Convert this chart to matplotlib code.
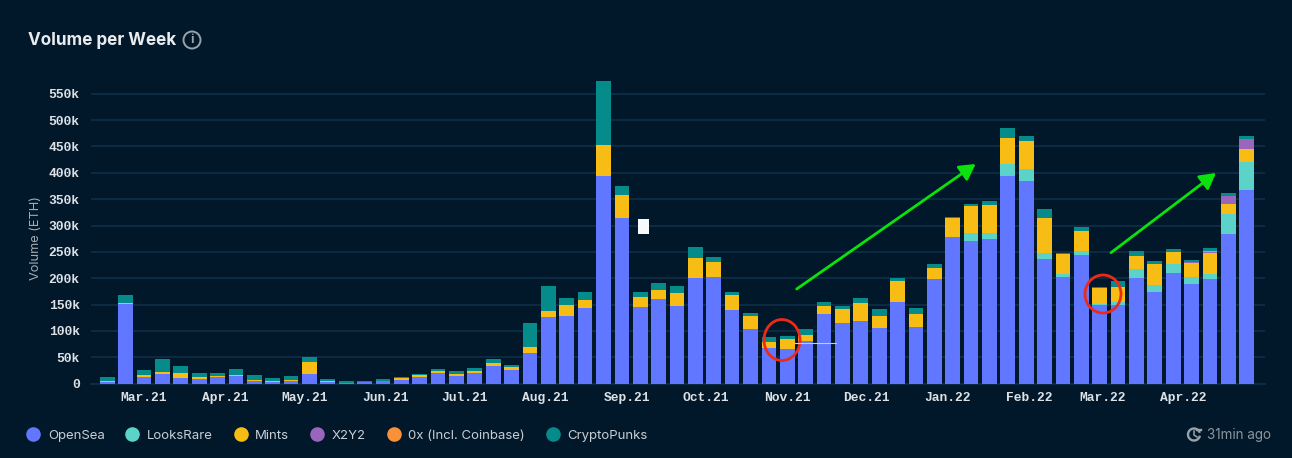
import matplotlib
matplotlib.use("Agg")
import matplotlib.pyplot as plt
import matplotlib.dates as mdates
import numpy as np
import pandas as pd
from matplotlib.lines import Line2D
from matplotlib.patches import Ellipse, Rectangle, Arc, FancyArrowPatch

W, H = 1292, 458
weeks = pd.date_range("2021-02-15", periods=63, freq="7D")

opensea = [4,151,12,18,11,8,12,15,5,3,4.5,19,4,1.5,3,5,7.5,13,20,14,19.6,34,26,59,126,129,143,394,313.5,145,160.5,148,200,202,139,103,67,66,81,131.5,115.7,119.5,106,155.5,108,199,279,270.5,275,394,385,237,203,245,149,149,201,174.5,210.5,189.6,199,284,367]
looksrare = [0]*47 + [15.5,10,23,22,11,6,6,3,6.5,16.5,12,16.5,12,10,38,54]
mints = [1,3,4,5,10,4.6,3,1,2,1.5,2.5,22,1,0.5,1,1,2.5,3,4.6,5,4.4,6,5,10,12,21,16,58.6,43.5,19,17,24.6,37.7,28.7,29,24.7,13,18,12,16.5,25.9,34.1,23,38.5,24,20,34.5,51,53,49,53,65.5,37,39,29,28.5,24.5,41,22.7,27.4,39,19,25]
x2y2 = [0]*59 + [2,2,15,18]
zerox = [0]*60 + [1,0,0]
punks = [7.6,15,10,23,12.5,7,4.6,11,10,6.5,7,9.5,3,2.5,1.5,2,2,1.7,3.2,5,5,7,4,47,48,13,15,121.4,18.5,9,13.5,12.4,20.8,8.9,6.5,7.3,9,7,10.7,7.5,5.1,8.9,12,6,11.5,8.6,3.5,3,9,19.5,9,17.1,2,7,3,10,9,5,5.3,3,6,5,5]

names = ["OpenSea", "LooksRare", "Mints", "X2Y2", "0x (Incl. Coinbase)", "CryptoPunks"]
series = [opensea, looksrare, mints, x2y2, zerox, punks]
colors = ["#6177FF", "#5CD3C9", "#F8BD14", "#9A65BC", "#F8913A", "#068B8B"]
yticks = list(range(0, 551, 50))
ylabels = ["0"] + [f"{v}k" for v in yticks[1:]]
month_ticks = pd.date_range("2021-03-01", "2022-04-01", freq="MS")
month_labels = [d.strftime("%b.%y") for d in month_ticks]

BG = "#01182B"
GRID = "#0F2D46"
fig = plt.figure(figsize=(W / 100, H / 100), dpi=100, facecolor=BG)

def fx(x):
    return x / W
def fy(y):
    return 1 - y / H

# axes geometry in pixels
left, right, zero_y, top_y = 90.7, 1265.0, 383.7, 72.0
ax = fig.add_axes([fx(left), fy(zero_y), fx(right - left), (zero_y - top_y) / H], facecolor=BG)

bottom = np.zeros(len(weeks))
for vals, col in zip(series, colors):
    v = np.array(vals, dtype=float)
    ax.bar(weeks, v, width=5.6, bottom=bottom, color=col, linewidth=0, zorder=3)
    bottom += v

# x range: bar 0 centre at 107.3 px, bar 62 centre at 1246.7 px
d0 = mdates.date2num(weeks[0])
ppd = (1246.7 - 107.3) / (mdates.date2num(weeks[-1]) - d0)
ax.set_xlim(d0 - (107.3 - left) / ppd, d0 + (right - 107.3) / ppd)
ax.set_ylim(0, (zero_y - top_y) / (290.0 / 550.0))

ax.set_yticks(yticks, ylabels)
ax.set_xticks(month_ticks, month_labels)
ax.grid(axis="y", color=GRID, linewidth=1.3, zorder=0)
ax.grid(axis="x", visible=False)
ax.set_axisbelow(True)
for s in ["top", "right", "left"]:
    ax.spines[s].set_visible(False)
ax.spines["bottom"].set_color(GRID)
ax.spines["bottom"].set_linewidth(1.3)
ax.tick_params(axis="both", length=0)
ax.tick_params(axis="y", pad=8, labelcolor="#DDE1E5")
ax.tick_params(axis="x", pad=6, labelcolor="#DDE1E5")
for t in ax.get_xticklabels() + ax.get_yticklabels():
    t.set_fontfamily("Liberation Mono")
    t.set_fontweight("bold")
    t.set_fontsize(9.4)

fig.text(fx(36), fy(238), "Volume (ETH)", rotation=90, ha="center", va="center",
         family="Inter", fontsize=9.2, color="#A3ABB3")
fig.text(fx(28), fy(40.5), "Volume per Week", ha="left", va="center",
         family="Inter", fontweight="bold", fontsize=12.3, color="#E9ECEF")

# info icon
fig.add_artist(Ellipse((fx(192), fy(40)), 17 / W, 17 / H, transform=fig.transFigure,
                       fill=False, edgecolor="#9AA2AA", linewidth=1.4))
fig.text(fx(192), fy(40), "i", ha="center", va="center", family="Inter", fontweight="bold",
         fontsize=9, color="#9AA2AA")

# legend
handles = [Line2D([], [], linestyle="none", marker="o", markersize=10.5, markerfacecolor=c,
                  markeredgewidth=0, label=n) for n, c in zip(names, colors)]
leg = fig.legend(handles=handles, ncols=6, loc="center left", bbox_to_anchor=(fx(23), fy(435.5)),
                 frameon=False, handletextpad=0.33, columnspacing=1.33, borderpad=0, borderaxespad=0,
                 handlelength=1.55, prop={"family": "Inter", "size": 9.5}, labelcolor="#C9CED3")

# "31min ago" with clock icon
fig.text(fx(1207), fy(435), "31min ago", ha="left", va="center", family="Inter", fontsize=9.7, color="#8D959D")
fig.add_artist(Arc((fx(1194), fy(434.5)), 12 / W, 12 / H, theta1=40, theta2=330,
                   transform=fig.transFigure, edgecolor="#9AA2AA", linewidth=1.7))
fig.add_artist(Line2D([fx(1194), fx(1194), fx(1197)], [fy(431), fy(435), fy(437)],
                      transform=fig.transFigure, color="#9AA2AA", linewidth=1.1))
fig.add_artist(Line2D([fx(1197), fx(1201)], [fy(430), fy(430)],
                      transform=fig.transFigure, color="#9AA2AA", linewidth=1.7))

# hand-drawn annotations over the chart
def arrow(x0, y0, x1, y1):
    fig.add_artist(FancyArrowPatch((fx(x0), fy(y0)), (fx(x1), fy(y1)), transform=fig.transFigure,
                                   arrowstyle="-|>,head_length=5,head_width=2.8", mutation_scale=1.9,
                                   color="#0BE20B", linewidth=2.0, shrinkA=0, shrinkB=0, zorder=6))
arrow(796.7, 289, 975.7, 164)
arrow(1111, 252.7, 1216, 173)
for cx, cy, w, h in [(782, 340, 36, 41), (1103, 294, 36, 38)]:
    fig.add_artist(Ellipse((fx(cx), fy(cy)), w / W, h / H, transform=fig.transFigure, fill=False,
                           edgecolor="#EE2A17", linewidth=2.0, zorder=6))
fig.add_artist(Rectangle((fx(638), fy(234.5)), 11 / W, 15.5 / H, transform=fig.transFigure,
                         facecolor="#F8F9FB", edgecolor="none", zorder=6))
fig.add_artist(Line2D([fx(795), fx(836)], [fy(343.3), fy(343.3)], transform=fig.transFigure,
                      color="#C8CCD8", linewidth=0.8, zorder=6))

fig.savefig("out.png", dpi=100, facecolor=BG)
